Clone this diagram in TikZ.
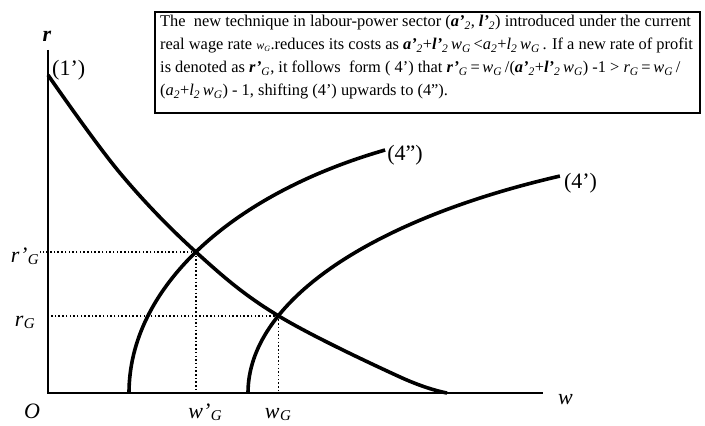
\documentclass[tikz,border=0pt]{standalone}
\usepackage{fontspec}
\setmainfont{Liberation Serif}
\usetikzlibrary{intersections}
\newcommand\gsub[1]{\textsubscript{\textit{#1}}}
\newcommand\lsub[1]{\kern0.5pt\raisebox{-1.5pt}{\fontsize{15}{15}\selectfont\textit{#1}}}
\newcommand\bi[1]{\textbf{\textit{#1}}}
\begin{document}
\begin{tikzpicture}[x=1pt,y=1pt,
  curve/.style={line width=3.6pt},
  axis/.style={line width=1.7pt},
  guide/.style={line width=1.5pt, dash pattern=on 1.5pt off 2.2pt},
  lab/.style={font=\fontsize{22}{24}\selectfont, inner sep=0pt},
  txt/.style={font=\fontsize{16.4}{23}\selectfont, inner sep=0pt, anchor=base west},
  box/.style={draw, line width=2pt}]
\useasboundingbox (0,0) rectangle (705,426);
% axes
\coordinate (O) at (48,33);
\coordinate (ytop) at (48,376);
\coordinate (xend) at (543,33);
\draw[axis] (ytop) -- (O) -- (xend);
% curves
\draw[curve, name path=one] plot[smooth, tension=0.6] coordinates {(48,351) (120,253) (197,173) (277,111) (400,49) (447,33)};
\draw[curve, name path=fourpp] (129,33) arc[start angle=180, end angle=115.84, x radius=454, y radius=270] coordinate (e4pp);
\draw[curve, name path=fourp] (248,33) arc[start angle=180, end angle=119.8, x radius=620, y radius=250] coordinate (e4p);
\path[name intersections={of=one and fourpp, by=A}];
\path[name intersections={of=one and fourp, by=B}];
% guides
\draw[guide] (A) -- (A -| O) -- ++(-8,0);
\draw[guide] (A) -- (A |- O);
\draw[guide] (B) -- (B -| O);
\draw[guide] (B) -- (B |- O);
% labels
\node[lab, anchor=base] (rl) at (47,384) {\bi{r}};
\node[lab, anchor=west] (c1) at (52,356) {(1’)};
\node[lab, anchor=west, xshift=2pt, yshift=-5pt] (c4pp) at (e4pp) {(4”)};
\node[lab, anchor=west, xshift=4pt, yshift=-7pt] (c4p) at (e4p) {(4’)};
\node[lab, anchor=base east] (rpg) at (39,163) {\textit{r’}\lsub{G}};
\node[lab, anchor=base east] (rg) at (35,99) {\textit{r}\lsub{G}};
\node[lab, anchor=base] (ol) at (32,7) {\textit{O}};
\node[lab, anchor=base] (wpg) at (205,7) {\textit{w’}\lsub{G}};
\node[lab, anchor=base] (wg) at (278,7) {\textit{w}\lsub{G}};
\node[lab, anchor=base west] (wl) at (558,21) {\textit{w}};
% text box
\draw[box] (155,414) rectangle (700,313);
\node[txt] (t1) at (160,399) {The\ \ new technique in labour-power sector (\bi{a’}\gsub{2}, \bi{l’}\gsub{2}) introduced under the current};
\node[txt] (t2) at (160,376) {real wage rate {\fontsize{12}{12}\selectfont\textit{w}\gsub{G}}.reduces its costs as \bi{a’}\gsub{2}+\bi{l’}\gsub{2}\,\textit{w}\gsub{G}\,<\textit{a}\gsub{2}+\textit{l}\gsub{2}\,\textit{w}\gsub{G}\,. If a new rate of profit};
\node[txt] (t3) at (160,353) {is denoted as \bi{r’}\gsub{G}, it follows\ \ form ( 4’) that \bi{r’}\gsub{G}\,=\,\textit{w}\gsub{G}\,/(\bi{a’}\gsub{2}+\bi{l’}\gsub{2}\,\textit{w}\gsub{G}) -1 > \textit{r}\gsub{G}\,=\,\textit{w}\gsub{G}\,/};
\node[txt] (t4) at (160,330) {(\textit{a}\gsub{2}+\textit{l}\gsub{2}\,\textit{w}\gsub{G}) - 1, shifting (4’) upwards to (4”).};
\end{tikzpicture}
\end{document}
